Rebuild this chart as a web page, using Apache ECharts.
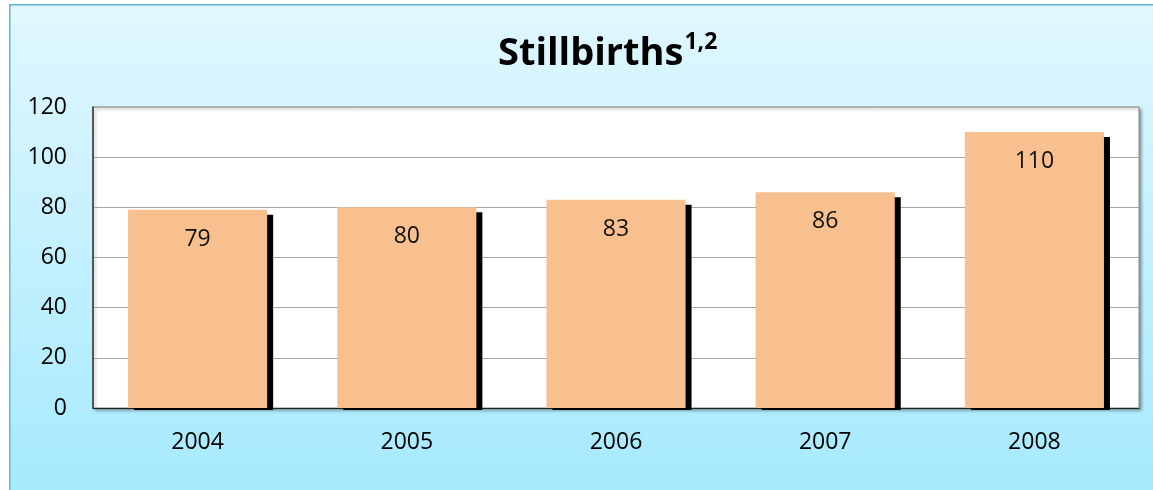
<!DOCTYPE html>
<html>
<head>
    <meta charset="UTF-8">
    <title>Stillbirths</title>
    <script type="text/javascript" src="https://cdn.jsdelivr.net/npm/echarts@6/dist/echarts.min.js"></script>
    <style>
        *{margin:0;padding:0}
        html,body{width:100%;height:100%;background:#fff}
        #main{width:1153px;height:490px}
    </style>
</head>
<body>
<div id="main"></div>
<script type="text/javascript">
    // 数据
    var years = ['2004', '2005', '2006', '2007', '2008'];
    var stillbirths = [79, 80, 83, 86, 110];
    var yTicks = {min: 0, max: 120, interval: 20};

    var font = '"Open Sans", "Liberation Sans", sans-serif';

    var option = {
        backgroundColor: '#fff',
        animation: false,
        graphic: [{
            type: 'rect',
            left: 9, top: 4, z: -10,
            shape: {width: 1300, height: 700},
            style: {
                fill: new echarts.graphic.LinearGradient(0, 0, 0, 1, [
                    {offset: 0, color: '#E1F7FE'},
                    {offset: 0.69, color: '#A6EAFD'},
                    {offset: 1, color: '#A6EAFD'}
                ]),
                stroke: '#5DB6CF',
                lineWidth: 1.5
            }
        }],
        title: {
            text: '{main|Stillbirths}{sup|1,2}',
            left: 493,
            top: 26,
            textStyle: {
                rich: {
                    main: {fontFamily: font, fontSize: 38, fontWeight: 'bold', color: '#000', lineHeight: 46},
                    sup: {fontFamily: font, fontSize: 23, fontWeight: 'bold', color: '#000', verticalAlign: 'top', lineHeight: 46, padding: [0, 0, 14, 1]}
                }
            }
        },
        grid: {
            left: 93, top: 107, right: 14, bottom: 82,
            show: true,
            backgroundColor: '#fff',
            borderColor: '#8a8a8a',
            borderWidth: 1,
            shadowColor: 'rgba(0,0,0,0.35)',
            shadowBlur: 3,
            shadowOffsetX: 2,
            shadowOffsetY: 2
        },
        xAxis: {
            type: 'category',
            data: years,
            axisLine: {show: true, lineStyle: {color: '#222', width: 1}},
            axisTick: {show: false},
            axisLabel: {fontFamily: font, fontSize: 23, color: '#000', margin: 23}
        },
        yAxis: {
            type: 'value',
            min: yTicks.min,
            max: yTicks.max,
            interval: yTicks.interval,
            axisLine: {show: true, lineStyle: {color: '#333', width: 1.5}},
            axisTick: {show: false},
            axisLabel: {fontFamily: font, fontSize: 23, color: '#000', margin: 26},
            splitLine: {lineStyle: {color: '#a6a6a6', width: 1}}
        },
        series: [
            {
                // 柱子右侧的黑色阴影
                type: 'custom',
                z: 1,
                silent: true,
                data: stillbirths.map(function (v, i) { return [i, v]; }),
                renderItem: function (params, api) {
                    var top = api.coord([api.value(0), api.value(1)]);
                    var base = api.coord([api.value(0), 0]);
                    var w = api.size([1, 0])[0] * 0.665;
                    return {
                        type: 'rect',
                        shape: {x: top[0] - w / 2 + 6, y: top[1] + 5, width: w, height: base[1] - top[1] - 3},
                        style: {fill: '#000'}
                    };
                }
            },
            {
                name: 'Stillbirths',
                type: 'bar',
                z: 2,
                barWidth: '66.5%',
                data: stillbirths,
                itemStyle: {color: '#F9C08F'},
                label: {
                    show: true,
                    position: 'insideTop',
                    distance: 18,
                    fontFamily: font,
                    fontSize: 23,
                    color: '#111'
                }
            }
        ]
    };

    var myChart = echarts.init(document.getElementById('main'));
    myChart.setOption(option);
</script>
</body>
</html>
